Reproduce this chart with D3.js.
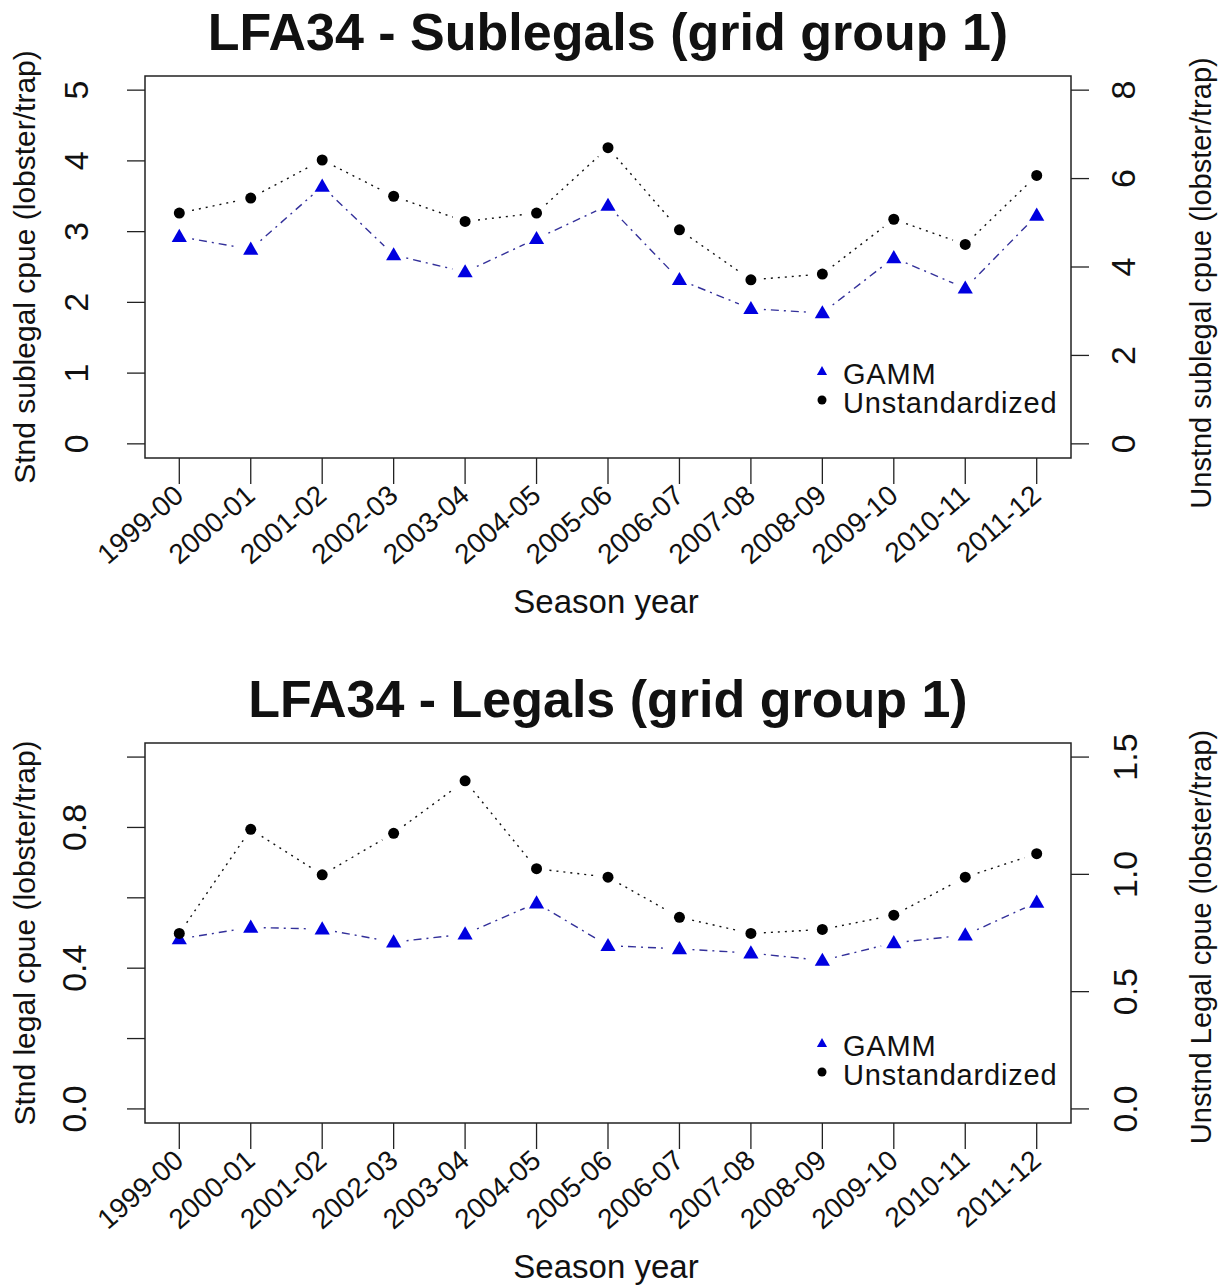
<!DOCTYPE html>
<html>
<head>
<meta charset="utf-8">
<script src="https://cdn.jsdelivr.net/npm/d3@7"></script>
<style>
  body { margin: 0; background: #fff; }
  svg text { font-family: "Liberation Sans", Arial, sans-serif; fill: #111; }
</style>
</head>
<body>
<div id="chart"></div>
<script>
// season labels shared by both panels
var seasons = ["1999-00","2000-01","2001-02","2002-03","2003-04","2004-05","2005-06",
               "2006-07","2007-08","2008-09","2009-10","2010-11","2011-12"];

// sublegals
var subGamm  = [2.93, 2.75, 3.64, 2.67, 2.43, 2.90, 3.37, 2.32, 1.91, 1.85, 2.63, 2.20, 3.23];
var subUnstd = [5.22, 5.56, 6.42, 5.60, 5.03, 5.22, 6.70, 4.84, 3.71, 3.84, 5.08, 4.51, 6.07];

// legals
var legGamm  = [0.483, 0.516, 0.511, 0.474, 0.497, 0.585, 0.464, 0.455, 0.443, 0.422, 0.472, 0.494, 0.587];
var legUnstd = [0.748, 1.192, 0.998, 1.175, 1.399, 1.024, 0.988, 0.817, 0.748, 0.765, 0.826, 0.988, 1.088];

// axis ticks
var subLeftTicks  = [0, 1, 2, 3, 4, 5];
var subRightTicks = [0, 2, 4, 6, 8];
var legLeftTicks  = [0, 0.2, 0.4, 0.6, 0.8, 1.0];
var legLeftLabels = ["0.0", "", "0.4", "", "0.8", ""];
var legRightTicks = [0, 0.5, 1.0, 1.5];

var legendNames = ["GAMM", "Unstandardized"];

var W = 1221, H = 1285;
var svg = d3.select("#chart").append("svg")
    .attr("width", W).attr("height", H);

var boxLeft = 145, boxRight = 1071;

var x = d3.scalePoint()
    .domain(seasons)
    .range([boxLeft, boxRight])
    .padding(0.48);

var tri = d3.symbol().type(d3.symbolTriangle);
var gammCol = "#0000e0", gammLine = "#33309a";

// R type="b" style: segments with a gap around each point
function gappedSegments(pts, gap) {
    var segs = [];
    for (var i = 0; i < pts.length - 1; i++) {
        var a = pts[i], b = pts[i+1];
        var dx = b[0]-a[0], dy = b[1]-a[1], len = Math.sqrt(dx*dx+dy*dy);
        if (len <= 2*gap) continue;
        var ux = dx/len, uy = dy/len;
        segs.push([a[0]+ux*gap, a[1]+uy*gap, b[0]-ux*gap, b[1]-uy*gap]);
    }
    return segs;
}

function drawPanel(cfg) {
    var g = svg.append("g");
    var yL = d3.scaleLinear().domain(cfg.leftDomain).range([cfg.bottom, cfg.top]);
    var yR = d3.scaleLinear().domain(cfg.rightDomain).range([cfg.bottom, cfg.top]);

    // title
    g.append("text")
        .attr("x", (boxLeft + boxRight) / 2)
        .attr("y", cfg.titleY)
        .attr("text-anchor", "middle")
        .style("font-size", "52px")
        .style("font-weight", "bold")
        .text(cfg.title);

    // left axis
    g.selectAll(".ltick").data(cfg.leftTicks).enter().append("line")
        .attr("x1", boxLeft - 18).attr("x2", boxLeft)
        .attr("y1", function(d){return yL(d);}).attr("y2", function(d){return yL(d);})
        .style("stroke", "#222").style("stroke-width", 1.3);
    g.selectAll(".llab").data(cfg.leftTicks).enter().append("text")
        .attr("transform", function(d){return "translate(" + cfg.leftLabX + "," + yL(d) + ") rotate(-90)";})
        .attr("text-anchor", "middle")
        .style("font-size", "34px")
        .text(function(d, i){return cfg.leftLabels ? cfg.leftLabels[i] : d;});

    // right axis
    g.selectAll(".rtick").data(cfg.rightTicks).enter().append("line")
        .attr("x1", boxRight).attr("x2", boxRight + 18)
        .attr("y1", function(d){return yR(d);}).attr("y2", function(d){return yR(d);})
        .style("stroke", "#222").style("stroke-width", 1.3);
    g.selectAll(".rlab").data(cfg.rightTicks).enter().append("text")
        .attr("transform", function(d){return "translate(" + cfg.rightLabX + "," + yR(d) + ") rotate(-90)";})
        .attr("text-anchor", "middle")
        .style("font-size", "34px")
        .text(function(d){return cfg.rightFmt(d);});

    // x axis
    g.selectAll(".xtick").data(seasons).enter().append("line")
        .attr("x1", function(d){return x(d);}).attr("x2", function(d){return x(d);})
        .attr("y1", cfg.bottom).attr("y2", cfg.bottom + 26)
        .style("stroke", "#222").style("stroke-width", 1.3);
    g.selectAll(".xlab").data(seasons).enter().append("text")
        .attr("transform", function(d){return "translate(" + (x(d) + 6) + "," + (cfg.bottom + 40) + ") rotate(-41)";})
        .attr("text-anchor", "end")
        .style("font-size", "28px")
        .text(function(d){return d;});

    // axis titles
    var midY = (cfg.top + cfg.bottom) / 2;
    g.append("text")
        .attr("transform", "translate(35," + midY + ") rotate(-90)")
        .attr("text-anchor", "middle")
        .style("font-size", "30px")
        .text(cfg.leftTitle);
    g.append("text")
        .attr("transform", "translate(1211," + (midY + cfg.rightTitleShift) + ") rotate(-90)")
        .attr("text-anchor", "middle")
        .style("font-size", "29px")
        .text(cfg.rightTitle);
    g.append("text")
        .attr("x", 606).attr("y", cfg.bottom + 155)
        .attr("text-anchor", "middle")
        .style("font-size", "33px")
        .text("Season year");

    // lines
    var ptsG = seasons.map(function(s, i){return [x(s), yL(cfg.gamm[i])];});
    var ptsU = seasons.map(function(s, i){return [x(s), yR(cfg.unstd[i])];});

    g.selectAll(".segG").data(gappedSegments(ptsG, 13)).enter().append("line")
        .attr("x1", function(d){return d[0];}).attr("y1", function(d){return d[1];})
        .attr("x2", function(d){return d[2];}).attr("y2", function(d){return d[3];})
        .style("stroke", gammLine).style("stroke-width", 1.4)
        .style("stroke-dasharray", "2,5,8,5");
    g.selectAll(".segU").data(gappedSegments(ptsU, 13)).enter().append("line")
        .attr("x1", function(d){return d[0];}).attr("y1", function(d){return d[1];})
        .attr("x2", function(d){return d[2];}).attr("y2", function(d){return d[3];})
        .style("stroke", "#111").style("stroke-width", 1.4)
        .style("stroke-dasharray", "2,5");

    // points
    g.selectAll(".ptG").data(ptsG).enter().append("path")
        .attr("d", tri.size(100))
        .attr("transform", function(d){return "translate(" + d[0] + "," + (d[1] + 1) + ")";})
        .style("fill", gammCol);
    g.selectAll(".ptU").data(ptsU).enter().append("circle")
        .attr("cx", function(d){return d[0];}).attr("cy", function(d){return d[1];})
        .attr("r", 5.5)
        .style("fill", "#000");

    // legend
    var lg = g.append("g");
    lg.append("path")
        .attr("d", d3.symbol().type(d3.symbolTriangle).size(45)())
        .attr("transform", "translate(822," + (cfg.legendY - 12) + ")")
        .style("fill", gammCol);
    lg.append("circle")
        .attr("cx", 822).attr("cy", cfg.legendY + 16).attr("r", 4.5)
        .style("fill", "#000");
    lg.selectAll(".lt").data(legendNames).enter().append("text")
        .attr("x", 843)
        .attr("y", function(d, i){return cfg.legendY + i * 29;})
        .style("font-size", "29px")
        .style("letter-spacing", "0.8px")
        .text(function(d){return d;});

    // box
    g.append("rect")
        .attr("x", boxLeft).attr("y", cfg.top)
        .attr("width", boxRight - boxLeft).attr("height", cfg.bottom - cfg.top)
        .style("fill", "none").style("stroke", "#222").style("stroke-width", 1.5);
}

drawPanel({
    title: "LFA34 - Sublegals (grid group 1)", titleY: 50,
    top: 76, bottom: 458,
    leftDomain: [-0.2, 5.2], rightDomain: [-0.32, 8.32],
    leftTicks: subLeftTicks, rightTicks: subRightTicks,
    rightFmt: function(d){return d;},
    leftLabX: 88, rightLabX: 1135,
    leftTitle: "Stnd sublegal cpue (lobster/trap)",
    rightTitle: "Unstnd sublegal cpue (lobster/trap)", rightTitleShift: 16,
    gamm: subGamm, unstd: subUnstd,
    legendY: 384
});

drawPanel({
    title: "LFA34 - Legals (grid group 1)", titleY: 717,
    top: 743, bottom: 1123,
    leftDomain: [-0.04, 1.04], rightDomain: [-0.06, 1.56],
    leftTicks: legLeftTicks, leftLabels: legLeftLabels, rightTicks: legRightTicks,
    rightFmt: d3.format(".1f"),
    leftLabX: 86, rightLabX: 1137,
    leftTitle: "Stnd legal cpue (lobster/trap)",
    rightTitle: "Unstnd Legal cpue (lobster/trap)", rightTitleShift: 4,
    gamm: legGamm, unstd: legUnstd,
    legendY: 1056
});
</script>
</body>
</html>
